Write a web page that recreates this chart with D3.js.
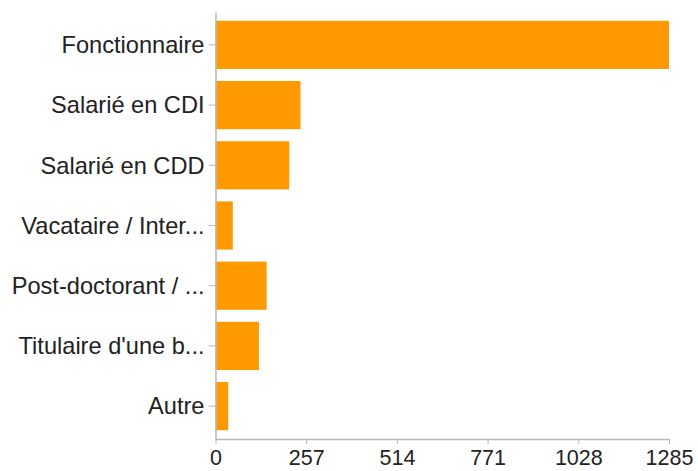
<!DOCTYPE html>
<html>
<head>
<meta charset="utf-8">
<script src="https://cdn.jsdelivr.net/npm/d3@7"></script>
<style>
  body { margin: 0; background: #fff; }
  svg { display: block; font-family: "Liberation Sans", Arial, Helvetica, sans-serif; }
</style>
</head>
<body>
<div id="chart"></div>
<script>
// categories as shown (labels already truncated in the source chart)
const categories = [
  "Fonctionnaire",
  "Salarié en CDI",
  "Salarié en CDD",
  "Vacataire / Inter...",
  "Post-doctorant / ...",
  "Titulaire d'une b...",
  "Autre",
];
const counts = [1285, 241, 209, 49, 145, 123, 36];
const tickValues = [0, 257, 514, 771, 1028, 1285];

const width = 698;
const height = 471;

const margin = { left: 215.5, right: 29, top: 12, bottom: 32 };

const svg = d3
  .select("#chart")
  .append("svg")
  .attr("width", width)
  .attr("height", height);

const data = categories.map((name, i) => ({ name, value: counts[i] }));

// scales
const x = d3
  .scaleLinear()
  .domain([0, 1285])
  .range([margin.left, width - margin.right]);

const y = d3
  .scaleBand()
  .domain(categories)
  .range([margin.top, height - margin.bottom])
  .paddingInner(0.2)
  .paddingOuter(0.146);

const axisColor = "#b8b8b8";

// bars
svg
  .append("g")
  .attr("class", "bars")
  .selectAll("rect")
  .data(data)
  .join("rect")
  .attr("x", x(0))
  .attr("y", (d) => y(d.name))
  .attr("width", (d) => x(d.value) - x(0))
  .attr("height", y.bandwidth())
  .attr("fill", "#ff9900");

// y axis
const yAxis = svg
  .append("g")
  .attr("class", "y axis")
  .attr("transform", "translate(" + x(0) + ",0)")
  .call(d3.axisLeft(y).tickSize(7).tickPadding(4).tickSizeOuter(0));

yAxis.select(".domain").attr("stroke", axisColor).attr("stroke-width", 1.5);
yAxis.selectAll(".tick line").attr("stroke", axisColor);
yAxis
  .selectAll(".tick text")
  .attr("fill", "#222")
  .style("font-size", "23.6px")
  .attr("dy", "0.35em");

// x axis
const xAxis = svg
  .append("g")
  .attr("class", "x axis")
  .attr("transform", "translate(0," + (height - margin.bottom) + ")")
  .call(
    d3
      .axisBottom(x)
      .tickValues(tickValues)
      .tickFormat(d3.format("d"))
      .tickSize(5)
      .tickPadding(6)
      .tickSizeOuter(0)
  );

xAxis.select(".domain").attr("stroke", axisColor).attr("stroke-width", 1.5);
xAxis.selectAll(".tick line").attr("stroke", axisColor);
xAxis
  .selectAll(".tick text")
  .attr("fill", "#222")
  .style("font-size", "21.5px");
</script>
</body>
</html>
